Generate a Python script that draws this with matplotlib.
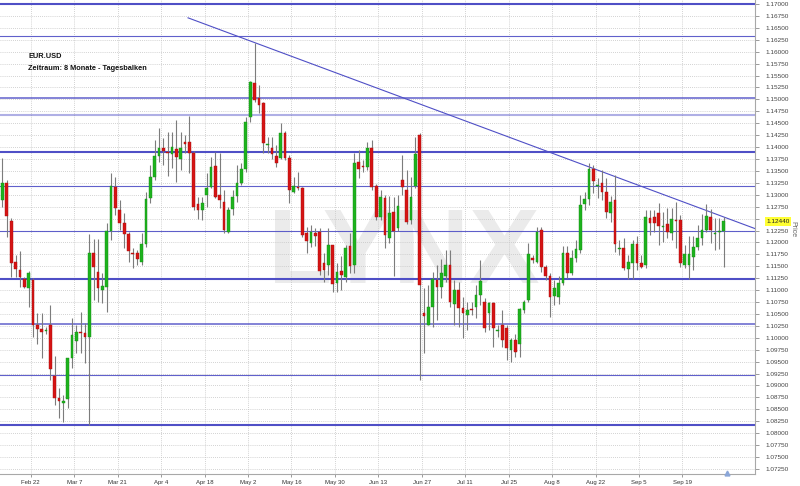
import numpy as np
import matplotlib.pyplot as plt
from matplotlib.transforms import blended_transform_factory

# EUR/USD daily bars, one entry per trading day
opens = [
    1.1289, 1.1325, 1.1245, 1.1158, 1.1142, 1.1123, 1.1104, 1.1121, 1.1027, 1.1018,
    1.1015, 1.1027, 1.0919, 1.0874, 1.0863, 1.0871, 1.0957, 1.0993, 1.1012, 1.1010,
    1.1001, 1.1178, 1.1139, 1.1100, 1.1107, 1.1225, 1.1317, 1.1268, 1.1240, 1.1218,
    1.1178, 1.1177, 1.1160, 1.1196, 1.1293, 1.1338, 1.1382, 1.1398, 1.1390, 1.1385,
    1.1396, 1.1376, 1.1410, 1.1410, 1.1388, 1.1281, 1.1267, 1.1299, 1.1317, 1.1360,
    1.1299, 1.1285, 1.1222, 1.1270, 1.1297, 1.1325, 1.1353, 1.1464, 1.1535, 1.1502,
    1.1492, 1.1405, 1.1397, 1.1382, 1.1378, 1.1429, 1.1378, 1.1306, 1.1317, 1.1314,
    1.1219, 1.1199, 1.1220, 1.1222, 1.1157, 1.1153, 1.1195, 1.1114, 1.1141, 1.1128,
    1.1193, 1.1153, 1.1369, 1.1360, 1.1359, 1.1397, 1.1318, 1.1253, 1.1293, 1.1210,
    1.1263, 1.1230, 1.1331, 1.1311, 1.1247, 1.1318, 1.1425, 1.1052, 1.1027, 1.1065,
    1.1121, 1.1107, 1.1130, 1.1153, 1.1071, 1.1100, 1.1062, 1.1048, 1.1060, 1.1064,
    1.1090, 1.1076, 1.1051, 1.1074, 1.1015, 1.1027, 1.1020, 1.0975, 1.0995, 1.0988,
    1.1058, 1.1079, 1.1167, 1.1160, 1.1226, 1.1149, 1.1130, 1.1088, 1.1086, 1.1115,
    1.1178, 1.1136, 1.1167, 1.1184, 1.1281, 1.1291, 1.1355, 1.1319, 1.1324, 1.1306,
    1.1262, 1.1288, 1.1186, 1.1188, 1.1144, 1.1156, 1.1197, 1.1156, 1.1153, 1.1252,
    1.1254, 1.1262, 1.1232, 1.1239, 1.1220, 1.1248, 1.1247, 1.1153, 1.1153, 1.1170,
    1.1191, 1.1209, 1.1226, 1.1254, 1.1217, 1.1222, 1.1223,
]
highs = [
    1.1377, 1.1331, 1.1252, 1.1174, 1.1181, 1.1128, 1.1140, 1.1125, 1.1051, 1.1051,
    1.1023, 1.1069, 1.0962, 1.0894, 1.0880, 1.0957, 1.1041, 1.1027, 1.1055, 1.1031,
    1.1217, 1.1208, 1.1208, 1.1135, 1.1240, 1.1345, 1.1338, 1.1289, 1.1261, 1.1222,
    1.1188, 1.1184, 1.1219, 1.1306, 1.1362, 1.1415, 1.1439, 1.1418, 1.1432, 1.1432,
    1.1457, 1.1432, 1.1425, 1.1466, 1.1392, 1.1296, 1.1296, 1.1345, 1.1380, 1.1390,
    1.1387, 1.1310, 1.1275, 1.1310, 1.1362, 1.1366, 1.1464, 1.1539, 1.1618, 1.1530,
    1.1495, 1.1422, 1.1422, 1.1404, 1.1450, 1.1434, 1.1383, 1.1338, 1.1348, 1.1317,
    1.1233, 1.1237, 1.1230, 1.1230, 1.1178, 1.1230, 1.1195, 1.1157, 1.1172, 1.1195,
    1.1220, 1.1388, 1.1394, 1.1373, 1.1411, 1.1415, 1.1323, 1.1310, 1.1300, 1.1297,
    1.1296, 1.1300, 1.1383, 1.1352, 1.1338, 1.1422, 1.1430, 1.1104, 1.1111, 1.1137,
    1.1153, 1.1165, 1.1184, 1.1184, 1.1121, 1.1118, 1.1086, 1.1076, 1.1076, 1.1111,
    1.1163, 1.1083, 1.1076, 1.1076, 1.1027, 1.1058, 1.1027, 1.0999, 1.1009, 1.1062,
    1.1079, 1.1198, 1.1174, 1.1233, 1.1233, 1.1153, 1.1135, 1.1121, 1.1130, 1.1193,
    1.1193, 1.1184, 1.1205, 1.1300, 1.1306, 1.1366, 1.1362, 1.1335, 1.1352, 1.1335,
    1.1297, 1.1341, 1.1205, 1.1209, 1.1174, 1.1205, 1.1214, 1.1174, 1.1268, 1.1268,
    1.1268, 1.1283, 1.1264, 1.1272, 1.1272, 1.1285, 1.1257, 1.1195, 1.1214, 1.1214,
    1.1237, 1.1260, 1.1281, 1.1270, 1.1251, 1.1251, 1.1253,
]
lows = [
    1.1275, 1.1212, 1.1128, 1.1128, 1.1107, 1.1105, 1.1065, 1.1002, 1.0988, 1.0957,
    1.1009, 1.0912, 1.0859, 1.0832, 1.0824, 1.0852, 1.0936, 1.0968, 1.0968, 1.0947,
    1.0818, 1.1079, 1.1075, 1.1072, 1.1055, 1.1205, 1.1258, 1.1226, 1.1188, 1.1160,
    1.1146, 1.1153, 1.1153, 1.1191, 1.1282, 1.1331, 1.1369, 1.1362, 1.1339, 1.1356,
    1.1327, 1.1352, 1.1387, 1.1345, 1.1268, 1.1250, 1.1247, 1.1275, 1.1314, 1.1293,
    1.1272, 1.1219, 1.1220, 1.1258, 1.1285, 1.1321, 1.1348, 1.1453, 1.1495, 1.1471,
    1.1387, 1.1387, 1.1376, 1.1358, 1.1375, 1.1373, 1.1283, 1.1303, 1.1310, 1.1212,
    1.1178, 1.1191, 1.1193, 1.1132, 1.1117, 1.1132, 1.1096, 1.1096, 1.1100, 1.1117,
    1.1136, 1.1136, 1.1335, 1.1348, 1.1352, 1.1310, 1.1247, 1.1247, 1.1188, 1.1198,
    1.1130, 1.1224, 1.1300, 1.1239, 1.1238, 1.1314, 1.0912, 1.0968, 1.1027, 1.1023,
    1.1037, 1.1083, 1.1118, 1.1065, 1.1027, 1.1023, 1.0999, 1.1016, 1.1048, 1.1041,
    1.1069, 1.1013, 1.1016, 1.0981, 1.1002, 1.0981, 1.0954, 1.0950, 1.0960, 1.0960,
    1.1052, 1.1076, 1.1157, 1.1156, 1.1139, 1.1121, 1.1044, 1.1069, 1.1071, 1.1111,
    1.1125, 1.1132, 1.1159, 1.1178, 1.1268, 1.1279, 1.1304, 1.1293, 1.1289, 1.1251,
    1.1243, 1.1180, 1.1174, 1.1142, 1.1124, 1.1124, 1.1142, 1.1146, 1.1146, 1.1216,
    1.1222, 1.1195, 1.1201, 1.1210, 1.1205, 1.1188, 1.1149, 1.1146, 1.1124, 1.1142,
    1.1184, 1.1195, 1.1222, 1.1199, 1.1184, 1.1186, 1.1149,
]
closes = [
    1.1324, 1.1255, 1.1156, 1.1144, 1.1127, 1.1107, 1.1135, 1.1027, 1.1018, 1.1013,
    1.1017, 1.0934, 1.0873, 1.0868, 1.0868, 1.0957, 1.1006, 1.1013, 1.1010, 1.1001,
    1.1177, 1.1149, 1.1104, 1.1109, 1.1225, 1.1318, 1.1272, 1.1240, 1.1218, 1.1181,
    1.1176, 1.1165, 1.1196, 1.1291, 1.1338, 1.1381, 1.1397, 1.1392, 1.1387, 1.1401,
    1.1380, 1.1399, 1.1407, 1.1388, 1.1275, 1.1268, 1.1283, 1.1314, 1.1358, 1.1296,
    1.1289, 1.1226, 1.1268, 1.1296, 1.1324, 1.1353, 1.1453, 1.1537, 1.1499, 1.1488,
    1.1408, 1.1407, 1.1385, 1.1367, 1.1429, 1.1378, 1.1310, 1.1318, 1.1315, 1.1216,
    1.1204, 1.1222, 1.1214, 1.1141, 1.1142, 1.1195, 1.1113, 1.1139, 1.1132, 1.1189,
    1.1151, 1.1367, 1.1355, 1.1358, 1.1397, 1.1317, 1.1254, 1.1295, 1.1216, 1.1261,
    1.1225, 1.1276, 1.1316, 1.1243, 1.1296, 1.1385, 1.1111, 1.1046, 1.1064, 1.1123,
    1.1107, 1.1135, 1.1153, 1.1076, 1.1100, 1.1062, 1.1051, 1.1058, 1.1058, 1.1090,
    1.1120, 1.1020, 1.1074, 1.1020, 1.1017, 1.0995, 1.0978, 1.0995, 1.0971, 1.1060,
    1.1076, 1.1176, 1.1163, 1.1222, 1.1149, 1.1130, 1.1086, 1.1105, 1.1115, 1.1178,
    1.1136, 1.1167, 1.1186, 1.1279, 1.1291, 1.1355, 1.1329, 1.1321, 1.1306, 1.1264,
    1.1285, 1.1197, 1.1188, 1.1146, 1.1158, 1.1197, 1.1156, 1.1149, 1.1254, 1.1240,
    1.1240, 1.1235, 1.1235, 1.1222, 1.1250, 1.1245, 1.1156, 1.1176, 1.1176, 1.1190,
    1.1209, 1.1226, 1.1255, 1.1226, 1.1219, 1.1224, 1.1244,
]

# x axis labels (every second Monday) and their bar positions
date_labels = ['Feb 22', 'Mar 7', 'Mar 21', 'Apr 4', 'Apr 18', 'May 2', 'May 16', 'May 30',
               'Jun 13', 'Jun 27', 'Jul 11', 'Jul 25', 'Aug 8', 'Aug 22', 'Sep 5', 'Sep 19']
date_pos = [6.5, 16.5, 26.5, 36.5, 46.5, 56.5, 66.5, 76.5,
            86.5, 96.5, 106.5, 116.5, 126.5, 136.5, 146.5, 156.5]

# horizontal support / resistance levels drawn on the chart
levels = [1.1700, 1.1633, 1.1503, 1.1468, 1.1390, 1.1319, 1.1225, 1.1123, 1.1029, 1.0922, 1.0818]
level_lw = [1.5, 0.8, 1.1, 1.5, 1.5, 0.8, 0.8, 1.5, 1.1, 0.8, 1.5]
level_alpha = [1.0, 0.9, 0.9, 0.45, 1.0, 0.9, 0.9, 1.0, 0.9, 0.9, 1.0]

# falling trend line (bar index, price)
trend_x = [42.7, 173.2]
trend_y = [1.1671, 1.1229]

last_price = 1.1244

GREEN = '#1db31d'
RED = '#d61414'
LINE = '#4f4fc6'

o = np.array(opens)
h = np.array(highs)
l = np.array(lows)
c = np.array(closes)
x = np.arange(len(o))
up = c >= o

fig = plt.figure(figsize=(8, 4.86), dpi=100)
ax = fig.add_axes([0, 12 / 486, 755 / 800, 474 / 486])
ax.set_xlim(-0.575, 173.19)
ax.set_ylim(1.07144, 1.17084)

# --- watermark ---
ax.text(92.4, 1.1115, 'LYNX', ha='center', va='baseline', fontsize=76,
        color='#ebebeb', fontweight='bold', family='Liberation Sans', zorder=0)

# --- grid ---
yt = np.arange(1.0725, 1.17001, 0.0025)
ax.set_yticks(yt)
ax.set_yticklabels(['' if abs(v - 1.125) < 1e-6 else f'{v:.5f}' for v in yt])
ax.set_xticks(date_pos)
ax.set_xticklabels(date_labels)
ax.grid(True, color='#c4c4c4', linestyle=(0, (1, 1.5)), linewidth=0.6, zorder=1)
ax.set_axisbelow(True)

# --- levels and trend line ---
for lev, lw, al in zip(levels, level_lw, level_alpha):
    ax.axhline(lev, color=LINE, lw=lw, alpha=al, zorder=2)
ax.plot(trend_x, trend_y, color=LINE, lw=0.8, zorder=2)

# --- candles ---
ax.vlines(x, l, h, color='#7c7c7c', lw=0.8, zorder=3)
body = np.maximum(np.abs(c - o), 0.00012)
bottom = np.minimum(o, c)
ax.bar(x[up], body[up], bottom=bottom[up], width=0.62, color=GREEN,
       edgecolor='#158a15', linewidth=0.3, zorder=4)
ax.bar(x[~up], body[~up], bottom=bottom[~up], width=0.62, color=RED,
       edgecolor='#a50e0e', linewidth=0.3, zorder=4)

# small event marker at the bottom right
ax.plot([166.7], [1.0717], marker='^', ms=3.5, color='#8aa6d8', clip_on=False, zorder=5)

# --- axes styling ---
ax.yaxis.tick_right()
ax.tick_params(axis='y', labelsize=4.6, colors='#8a8a8a', labelcolor='#444444',
               length=3, width=0.6, pad=4.5)
ax.tick_params(axis='x', labelsize=4.3, colors='#8a8a8a', labelcolor='#333333',
               length=2.5, width=0.6, pad=1.5)
for lab in ax.get_xticklabels() + ax.get_yticklabels():
    lab.set_family('Liberation Sans')
for side in ['top', 'left']:
    ax.spines[side].set_visible(False)
for side in ['right', 'bottom']:
    ax.spines[side].set_color('#a8a8a8')
    ax.spines[side].set_linewidth(0.8)

# current price marker on the axis
tr = blended_transform_factory(ax.transAxes, ax.transData)
ax.annotate(f'{last_price:.5f}', xy=(1.0, last_price), xycoords=tr,
            xytext=(8.2, 0), textcoords='offset points', ha='left', va='center',
            fontsize=4.6, family='Liberation Sans', color='#222222',
            bbox=dict(boxstyle='square,pad=0.25', fc='#ffff33', ec='none'),
            annotation_clip=False)

fig.text(793 / 800, 1 - 229 / 486, 'Price', rotation=270, ha='center', va='center',
         fontsize=5, color='#666666', family='Liberation Sans')

# --- title block ---
fig.text(28 / 800, 1 - 56 / 486, 'EUR.USD', fontsize=5.3, fontweight='bold',
         color='#111111', va='center', family='Liberation Sans')
fig.text(28 / 800, 1 - 68.5 / 486, 'Zeitraum: 8 Monate - Tagesbalken', fontsize=5.3,
         fontweight='bold', color='#111111', va='center', family='Liberation Sans')

fig.savefig('out.png', dpi=100, facecolor='white')
